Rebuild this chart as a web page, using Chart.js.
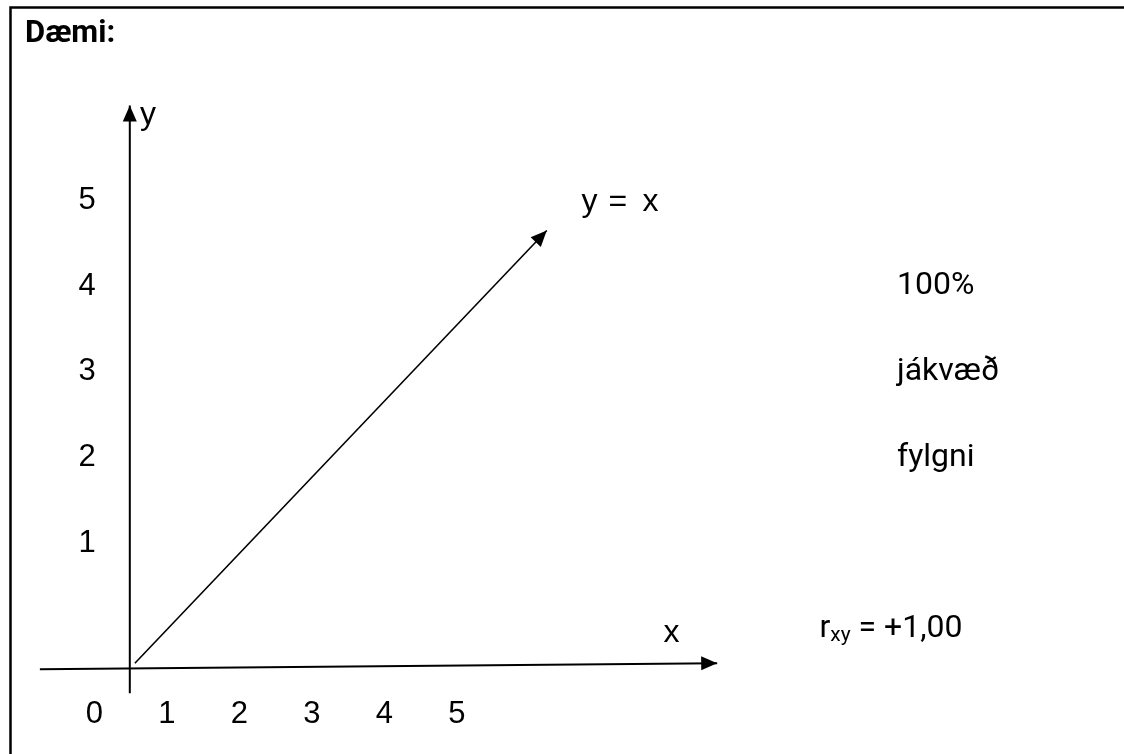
<!DOCTYPE html>
<html>
<head>
<meta charset="utf-8">
<script src="https://cdn.jsdelivr.net/npm/chart.js@4"></script>
<style>
  body { margin: 0; background: #fff; }
  #wrap { position: relative; width: 1124px; height: 754px; }
</style>
</head>
<body>
<div id="wrap"><canvas id="myChart"></canvas></div>
<script>
// tick labels
const xTickLabels = ["0", "1", "2", "3", "4", "5"];
const yTickLabels = ["1", "2", "3", "4", "5"];

// the y = x arrow
const diagX = [0.56, 6.24];
const diagY = [-0.40, 4.65];

// hand drawn axes
const xAxisX = [-0.75, 8.59];
const xAxisY = [-0.47, -0.40];
const yAxisX = [0.49, 0.49];
const yAxisY = [-0.75, 6.11];

// side notes
const sideNotes = ["100%", "jákvæð", "fylgni"];
const sideNoteRows = [4, 3, 2];

const pts = (xs, ys) => xs.map((x, i) => ({ x: x, y: ys[i] }));

document.addEventListener("DOMContentLoaded", () => {
  const ctx = document.getElementById("myChart").getContext("2d");

  const lineStyle = {
    showLine: true,
    borderColor: "#000",
    pointRadius: 0,
    clip: false,
    tension: 0,
  };

  const data = {
    datasets: [
      { ...lineStyle, data: pts(yAxisX, yAxisY), borderWidth: 2 },
      { ...lineStyle, data: pts(xAxisX, xAxisY), borderWidth: 2 },
      { ...lineStyle, data: pts(diagX, diagY), borderWidth: 1.6 },
    ],
  };

  const arrowHeads = {
    id: "arrowHeads",
    afterDatasetsDraw: (chart) => {
      const c = chart.ctx;
      c.save();
      c.fillStyle = "#000";
      chart.data.datasets.forEach((ds, i) => {
        const pts = chart.getDatasetMeta(i).data;
        const a = pts[pts.length - 2];
        const b = pts[pts.length - 1];
        const ang = Math.atan2(b.y - a.y, b.x - a.x);
        const len = 16, half = 7;
        c.save();
        c.translate(b.x, b.y);
        c.rotate(ang);
        c.beginPath();
        c.moveTo(0, 0);
        c.lineTo(-len, -half);
        c.lineTo(-len, half);
        c.closePath();
        c.fill();
        c.restore();
      });
      c.restore();
    },
  };

  const texts = {
    id: "texts",
    afterDraw: (chart) => {
      const c = chart.ctx;
      const sx = chart.scales.x;
      const sy = chart.scales.y;
      c.save();

      // frame
      c.strokeStyle = "#000";
      c.lineWidth = 2.5;
      c.strokeRect(10.5, 7.5, 1300, 900);

      c.fillStyle = "#000";
      c.textBaseline = "middle";

      c.font = "bold 31px Roboto";
      c.textAlign = "left";
      c.fillText("Dæmi:", 25, 34);

      // tick labels through the scales
      c.font = "31px 'Liberation Sans'";
      c.textAlign = "center";
      xTickLabels.forEach((t, i) => {
        c.fillText(t, sx.getPixelForValue(i), sy.getPixelForValue(-1));
      });
      yTickLabels.forEach((t, i) => {
        c.fillText(t, sx.getPixelForValue(-0.1), sy.getPixelForValue(i + 1));
      });

      // axis names
      c.font = "32px 'Liberation Sans'";
      c.textAlign = "left";
      c.fillText("y", sx.getPixelForValue(0.63), sy.getPixelForValue(6.0));
      c.fillText("x", sx.getPixelForValue(7.85), sy.getPixelForValue(-0.05));
      const ex = sx.getPixelForValue(6.72);
      const ey = sy.getPixelForValue(4.98);
      c.fillText("y", ex, ey);
      c.fillText("=", ex + 27, ey);
      c.fillText("x", ex + 61, ey);

      // notes on the right
      c.font = "32px Roboto";
      sideNotes.forEach((t, i) => {
        c.fillText(t, sx.getPixelForValue(11.07), sy.getPixelForValue(sideNoteRows[i]));
      });

      let x = sx.getPixelForValue(10.0);
      const y = sy.getPixelForValue(0);
      c.fillText("r", x, y);
      x += c.measureText("r").width;
      c.font = "21px Roboto";
      c.fillText("xy", x, y + 7);
      x += c.measureText("xy").width;
      c.font = "32px Roboto";
      c.fillText(" = +1,00", x, y);

      c.restore();
    },
  };

  const config = {
    type: "scatter",
    data: data,
    options: {
      responsive: true,
      maintainAspectRatio: false,
      animation: false,
      layout: { padding: 0 },
      scales: {
        x: { type: "linear", min: -1.3, max: 14.2, display: false },
        y: { type: "linear", min: -1.46, max: 7.34, display: false },
      },
      plugins: {
        legend: { display: false },
        tooltip: { enabled: false },
      },
    },
    plugins: [arrowHeads, texts],
  };

  new Chart(ctx, config);
});
</script>
</body>
</html>
